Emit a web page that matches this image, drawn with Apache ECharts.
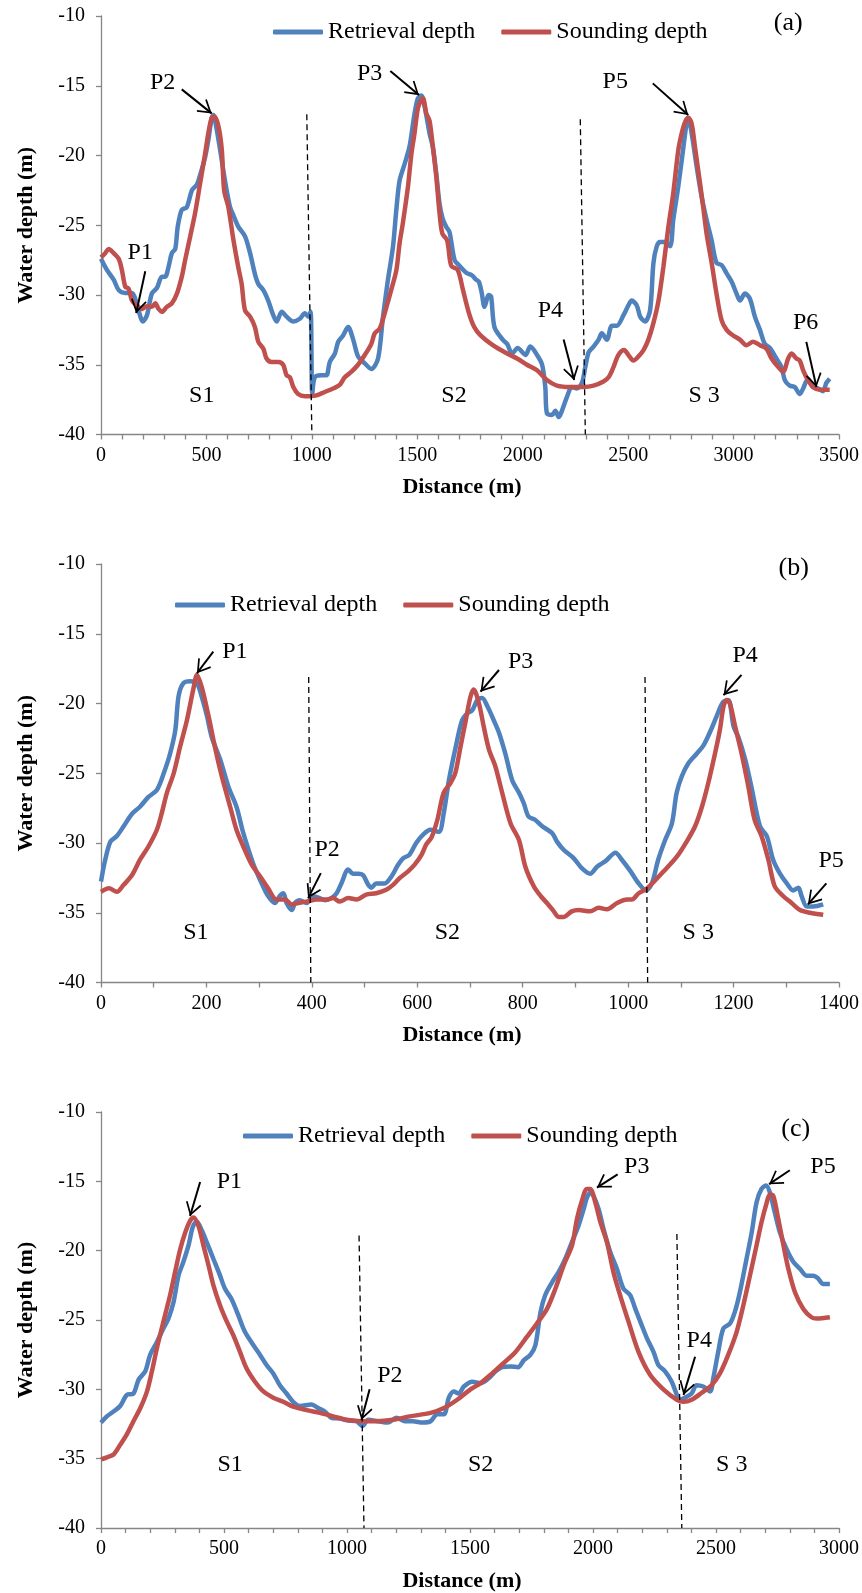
<!DOCTYPE html>
<html>
<head>
<meta charset="utf-8">
<script src="https://cdn.jsdelivr.net/npm/echarts@6/dist/echarts.min.js"></script>
<style>
html, body { margin: 0; padding: 0; background: #fff; }
#main { width: 862px; height: 1593px; }
</style>
</head>
<body>
<div id="main"></div>
<script>
var FONT = 'Liberation Serif';
var BLUE = '#4F81BD';
var RED = '#C0504D';

// ---- (a) profile: [distance m, depth m] ----
var retrievalA = [[0,-27.4],[28,-28.2],[60,-28.9],[84,-29.65],[115,-29.85],[147,-29.85],[162,-30.25],[178,-31.1],[199,-31.9],[218,-31.45],[241,-29.9],[265,-29.5],[289,-28.7],[304,-28.7],[320,-28.0],[336,-27.0],[352,-26.7],[364,-25.1],[383,-23.9],[407,-23.7],[431,-22.5],[454,-22.1],[470,-21.4],[494,-20.1],[509,-18.9],[525,-17.3],[533,-17.1],[546,-17.9],[565,-19.6],[588,-21.8],[612,-23.7],[628,-24.3],[651,-25.1],[683,-25.8],[707,-27.0],[730,-28.5],[746,-29.2],[770,-29.65],[793,-30.4],[817,-31.45],[833,-31.9],[857,-31.2],[880,-31.55],[912,-31.9],[943,-31.7],[967,-31.3],[983,-31.55],[994,-31.2],[1002,-37.1],[1014,-35.9],[1046,-35.75],[1069,-35.75],[1085,-34.8],[1109,-34.2],[1125,-33.35],[1148,-32.9],[1172,-32.3],[1196,-33.2],[1219,-34.4],[1251,-34.9],[1282,-35.3],[1314,-34.55],[1337,-31.6],[1360,-29.0],[1385,-26.5],[1400,-24.0],[1416,-21.8],[1440,-20.6],[1464,-19.3],[1487,-17.0],[1503,-15.9],[1519,-15.7],[1535,-16.5],[1558,-18.4],[1574,-19.4],[1590,-21.3],[1606,-23.5],[1620,-24.5],[1637,-25.1],[1653,-25.5],[1677,-27.5],[1700,-27.9],[1732,-28.4],[1760,-28.6],[1779,-28.9],[1792,-29.05],[1805,-29.8],[1819,-30.85],[1839,-30.0],[1850,-30.1],[1866,-32.3],[1905,-33.2],[1926,-33.5],[1950,-34.2],[1976,-33.8],[2013,-34.3],[2036,-33.7],[2068,-34.3],[2092,-35.0],[2107,-36.6],[2115,-38.5],[2139,-38.6],[2155,-38.3],[2171,-38.75],[2186,-38.3],[2210,-37.3],[2233,-36.6],[2257,-36.7],[2281,-36.3],[2297,-35.15],[2313,-34.1],[2336,-33.7],[2360,-33.2],[2375,-32.75],[2399,-33.2],[2423,-32.2],[2446,-32.2],[2478,-31.45],[2501,-30.75],[2517,-30.4],[2541,-30.75],[2557,-31.55],[2580,-31.9],[2604,-31.1],[2620,-27.7],[2636,-26.5],[2651,-26.2],[2675,-26.2],[2699,-26.5],[2714,-24.6],[2738,-22.2],[2762,-19.4],[2778,-17.6],[2785,-17.3],[2801,-18.4],[2825,-20.8],[2849,-23.0],[2872,-24.6],[2896,-26.1],[2919,-27.7],[2943,-27.85],[2967,-28.45],[2991,-29.05],[3014,-29.9],[3030,-30.4],[3054,-29.9],[3077,-30.25],[3101,-31.55],[3125,-32.5],[3148,-33.5],[3172,-33.8],[3203,-34.55],[3227,-35.15],[3243,-36.1],[3266,-36.5],[3290,-36.6],[3314,-37.1],[3330,-36.7],[3353,-36.0],[3377,-36.6],[3401,-36.7],[3424,-36.9],[3440,-36.3],[3456,-36.0]];
var soundingA = [[0,-27.3],[20,-27.0],[36,-26.7],[60,-27.0],[84,-27.4],[99,-28.2],[115,-29.4],[131,-29.55],[147,-30.4],[170,-30.75],[194,-31.0],[218,-30.8],[241,-30.85],[257,-30.6],[273,-31.0],[289,-31.2],[312,-30.85],[336,-30.6],[360,-29.9],[383,-28.7],[399,-27.5],[423,-25.8],[446,-24.15],[470,-22.0],[494,-19.85],[509,-18.4],[525,-17.3],[538,-17.2],[557,-17.9],[573,-19.6],[584,-22.5],[604,-23.7],[628,-26.05],[651,-28.0],[667,-29.2],[683,-31.1],[707,-31.55],[730,-32.3],[746,-33.35],[770,-33.85],[785,-34.55],[809,-34.8],[841,-34.8],[864,-35.0],[880,-35.75],[896,-35.9],[912,-36.6],[935,-37.1],[967,-37.25],[991,-37.25],[1022,-37.2],[1061,-36.95],[1101,-36.7],[1132,-36.45],[1156,-35.9],[1188,-35.5],[1219,-35.0],[1251,-34.3],[1282,-33.5],[1298,-32.75],[1322,-32.4],[1353,-30.9],[1377,-29.6],[1401,-28.2],[1416,-26.3],[1432,-24.8],[1456,-22.2],[1472,-19.9],[1487,-18.4],[1503,-16.6],[1519,-16.0],[1527,-15.9],[1543,-17.0],[1558,-17.5],[1574,-19.4],[1590,-21.5],[1606,-24.2],[1619,-25.6],[1642,-26.1],[1661,-27.9],[1692,-28.2],[1716,-29.6],[1745,-31.3],[1770,-32.3],[1800,-32.9],[1858,-33.6],[1926,-34.2],[1973,-34.55],[2020,-35.0],[2068,-35.4],[2115,-36.1],[2162,-36.5],[2225,-36.6],[2288,-36.6],[2336,-36.5],[2383,-36.2],[2407,-35.9],[2431,-35.15],[2454,-34.3],[2481,-33.95],[2501,-34.3],[2525,-34.7],[2549,-34.4],[2573,-33.95],[2596,-33.2],[2620,-32.0],[2644,-30.4],[2667,-28.0],[2691,-25.1],[2714,-22.7],[2738,-19.6],[2754,-18.4],[2770,-17.6],[2785,-17.3],[2801,-17.7],[2817,-19.4],[2841,-22.0],[2856,-23.7],[2872,-25.6],[2896,-27.7],[2919,-29.9],[2943,-31.8],[2967,-32.5],[2998,-32.9],[3030,-33.2],[3061,-33.6],[3093,-33.35],[3125,-33.6],[3156,-33.85],[3180,-34.55],[3211,-35.15],[3235,-35.5],[3259,-34.55],[3275,-34.2],[3298,-34.55],[3314,-34.7],[3330,-35.4],[3353,-36.1],[3377,-36.6],[3409,-36.8],[3456,-36.8]];

// ---- (b) profile ----
var retrievalB = [[0,-32.76],[8,-31.2],[18,-29.9],[30,-29.5],[43,-28.8],[59,-27.9],[74,-27.4],[90,-26.7],[106,-26.2],[119,-25.0],[131,-23.6],[141,-21.9],[147,-19.5],[156,-18.55],[169,-18.4],[182,-18.55],[191,-19.5],[201,-20.9],[210,-22.4],[226,-24.0],[242,-26.0],[257,-27.4],[270,-29.3],[283,-30.85],[292,-31.8],[305,-32.9],[317,-33.8],[330,-34.3],[339,-33.8],[346,-33.6],[352,-34.3],[362,-34.8],[368,-34.3],[377,-34.1],[390,-34.3],[402,-33.8],[415,-33.95],[425,-34.1],[437,-33.95],[447,-33.6],[456,-32.9],[469,-31.9],[478,-32.2],[488,-32.2],[497,-32.3],[507,-33.0],[513,-33.2],[522,-32.9],[538,-32.9],[551,-32.4],[563,-31.6],[573,-31.1],[585,-30.85],[598,-30.0],[611,-29.4],[625,-29.05],[641,-29.2],[650,-27.9],[660,-25.5],[673,-23.1],[685,-21.2],[695,-20.7],[704,-20.5],[714,-19.75],[723,-19.6],[733,-20.2],[745,-21.2],[755,-22.1],[767,-23.6],[780,-25.5],[793,-26.4],[802,-27.15],[811,-28.1],[824,-28.35],[837,-28.8],[856,-29.3],[865,-29.9],[878,-30.5],[897,-31.1],[912,-31.8],[928,-32.2],[941,-31.7],[957,-31.3],[976,-30.7],[988,-31.2],[1004,-32.0],[1020,-32.9],[1034,-33.4],[1045,-32.9],[1057,-31.2],[1070,-29.8],[1083,-28.6],[1092,-26.4],[1102,-25.2],[1114,-24.3],[1130,-23.6],[1143,-23.0],[1157,-21.9],[1168,-20.9],[1180,-19.9],[1190,-19.75],[1200,-21.65],[1209,-22.4],[1222,-24.0],[1234,-26.0],[1250,-28.8],[1263,-29.5],[1275,-31.2],[1288,-32.2],[1301,-32.9],[1313,-33.4],[1323,-33.2],[1329,-33.8],[1339,-34.55],[1351,-34.55],[1370,-34.4]];
var soundingB = [[0,-33.5],[15,-33.25],[30,-33.5],[43,-33.0],[59,-32.3],[74,-31.2],[90,-30.25],[106,-29.05],[115,-27.9],[125,-26.4],[138,-25.0],[150,-23.1],[163,-21.2],[175,-19.0],[182,-17.95],[191,-18.8],[204,-20.9],[216,-23.1],[229,-25.2],[245,-27.4],[257,-29.05],[270,-30.25],[286,-31.55],[302,-32.4],[317,-33.25],[333,-34.05],[349,-34.05],[362,-34.4],[374,-34.3],[390,-34.2],[409,-34.05],[428,-34.05],[440,-33.95],[453,-34.2],[469,-33.95],[485,-34.05],[503,-33.7],[522,-33.6],[541,-33.35],[554,-33.0],[567,-32.5],[582,-32.05],[595,-31.55],[608,-30.85],[617,-30.1],[627,-29.6],[638,-28.35],[650,-26.4],[663,-25.7],[672,-25.0],[682,-23.1],[692,-21.2],[701,-19.5],[707,-19.0],[717,-20.0],[726,-21.65],[736,-23.3],[748,-24.5],[761,-26.4],[777,-28.6],[793,-29.8],[805,-31.7],[821,-33.1],[834,-33.8],[846,-34.3],[859,-34.9],[868,-35.3],[878,-35.3],[893,-34.9],[906,-34.8],[928,-34.9],[944,-34.65],[960,-34.75],[979,-34.3],[998,-34.05],[1007,-34.05],[1020,-33.6],[1034,-33.3],[1048,-32.8],[1067,-32.05],[1092,-31.0],[1111,-29.9],[1127,-28.8],[1140,-27.4],[1152,-25.7],[1165,-23.55],[1174,-21.9],[1181,-20.2],[1187,-19.75],[1193,-20.0],[1203,-21.65],[1215,-23.55],[1228,-25.95],[1240,-28.35],[1253,-29.5],[1266,-31.2],[1278,-33.1],[1294,-33.8],[1310,-34.3],[1326,-34.8],[1345,-35.0],[1370,-35.15]];

// ---- (c) profile ----
var retrievalC = [[0,-32.4],[24,-31.95],[51,-31.6],[78,-31.2],[105,-30.4],[132,-30.3],[153,-29.3],[180,-28.7],[200,-27.5],[227,-26.6],[254,-25.6],[274,-24.9],[295,-23.7],[315,-21.8],[335,-20.8],[356,-19.6],[373,-18.3],[389,-17.9],[410,-18.55],[430,-19.4],[457,-20.6],[484,-21.8],[504,-22.75],[531,-23.5],[558,-24.65],[585,-25.85],[619,-26.8],[646,-27.5],[673,-28.25],[700,-28.85],[727,-29.7],[754,-30.3],[781,-30.9],[808,-31.2],[856,-31.1],[883,-31.35],[910,-31.6],[937,-32.05],[971,-32.1],[1005,-32.25],[1038,-32.3],[1063,-32.65],[1086,-32.2],[1126,-32.3],[1167,-32.4],[1201,-32.05],[1234,-32.3],[1268,-32.3],[1309,-32.4],[1340,-32.3],[1367,-31.8],[1394,-31.8],[1414,-30.6],[1434,-30.15],[1454,-30.3],[1475,-29.8],[1509,-29.45],[1543,-29.55],[1576,-29.2],[1604,-28.7],[1631,-28.4],[1665,-28.35],[1695,-28.4],[1719,-27.9],[1746,-27.5],[1766,-26.8],[1787,-24.4],[1806,-23.2],[1833,-22.3],[1860,-21.55],[1887,-20.6],[1914,-19.4],[1941,-18.2],[1962,-17.0],[1975,-16.2],[1989,-15.8],[2002,-16.05],[2023,-17.0],[2043,-18.45],[2070,-20.1],[2097,-21.3],[2124,-22.75],[2151,-23.2],[2172,-24.2],[2192,-25.1],[2219,-26.3],[2246,-27.3],[2266,-28.25],[2293,-28.7],[2320,-29.45],[2341,-30.4],[2354,-30.75],[2374,-30.6],[2401,-30.3],[2421,-29.7],[2448,-29.8],[2476,-30.15],[2489,-29.2],[2509,-27.3],[2530,-25.6],[2557,-25.25],[2577,-24.4],[2597,-23.0],[2624,-20.6],[2645,-18.7],[2665,-16.5],[2685,-15.55],[2703,-15.3],[2719,-15.8],[2739,-17.25],[2760,-18.7],[2787,-19.9],[2814,-20.8],[2841,-21.3],[2868,-21.8],[2895,-21.8],[2915,-22.0],[2936,-22.4],[2963,-22.4]];
var soundingC = [[0,-35.05],[24,-34.9],[51,-34.7],[78,-34.0],[105,-33.25],[132,-32.3],[160,-31.35],[187,-30.15],[207,-28.7],[227,-27.05],[254,-25.1],[281,-23.2],[301,-21.55],[322,-19.9],[342,-18.7],[362,-17.85],[376,-17.6],[396,-18.2],[416,-19.6],[437,-21.05],[457,-22.5],[484,-23.95],[511,-25.1],[538,-26.1],[565,-27.3],[592,-28.5],[626,-29.45],[660,-30.15],[700,-30.6],[741,-30.9],[781,-31.25],[836,-31.5],[890,-31.7],[944,-31.95],[998,-32.2],[1059,-32.3],[1120,-32.3],[1187,-32.2],[1255,-31.95],[1340,-31.7],[1394,-31.35],[1448,-30.75],[1502,-30.0],[1543,-29.55],[1590,-28.85],[1637,-28.1],[1685,-27.3],[1732,-26.2],[1772,-25.25],[1813,-24.2],[1847,-22.75],[1881,-21.05],[1915,-19.6],[1935,-17.7],[1955,-16.4],[1975,-15.55],[1989,-15.55],[2009,-16.5],[2030,-17.95],[2057,-19.4],[2083,-21.55],[2110,-23.2],[2144,-25.1],[2185,-27.3],[2232,-28.95],[2286,-30.0],[2341,-30.75],[2368,-30.9],[2401,-30.75],[2442,-30.25],[2482,-29.7],[2516,-28.85],[2550,-27.5],[2584,-25.85],[2611,-23.95],[2638,-21.8],[2665,-19.6],[2685,-17.95],[2706,-16.55],[2719,-15.95],[2733,-16.05],[2753,-17.7],[2774,-19.6],[2794,-21.3],[2821,-23.0],[2855,-24.2],[2888,-24.8],[2909,-24.9],[2963,-24.8]];

// annotations: arrows [from, to], labels, section boundaries
var arrowsA = [[[210,-28.3],[167,-31.3]],[[383,-15.26],[525,-16.98]],[[1372,-13.94],[1508,-15.67]],[[2194,-33.19],[2244,-36.1]],[[2617,-14.83],[2785,-17.1]],[[3345,-33.36],[3393,-36.6]]];
var labelsA = [['P1',186,-27.0],['P2',292,-14.8],['P3',1274,-14.16],['P4',2131,-31.1],['P5',2439,-14.7],['P6',3342,-32.0],['S1',478,-37.2],['S2',1674,-37.2],['S 3',2860,-37.2]];
var dashA = [[[976,-17.05],[1000,-40]],[[2273,-17.4],[2297,-40]]];

var arrowsB = [[[213,-16.28],[182,-17.83]],[[417,-32.16],[393,-33.95]],[[755,-17.6],[720,-19.15]],[[1215,-17.95],[1181,-19.4]],[[1376,-32.9],[1341,-34.4]]];
var labelsB = [['P1',254,-16.3],['P2',429,-30.5],['P3',796,-17.0],['P4',1222,-16.6],['P5',1385,-31.3],['S1',180,-36.4],['S2',657,-36.4],['S 3',1133,-36.4]];
var dashB = [[[394,-18.1],[398,-40]],[[1032,-18.1],[1037,-40]]];

var arrowsC = [[[403,-15.05],[362,-17.5]],[[1092,-30.0],[1059,-32.2]],[[2100,-14.5],[2016,-15.45]],[[2415,-27.65],[2368,-30.4]],[[2800,-14.2],[2716,-15.2]]];
var labelsC = [['P1',522,-15.05],['P2',1174,-29.0],['P3',2178,-13.95],['P4',2432,-26.5],['P5',2935,-13.95],['S1',525,-35.46],['S2',1543,-35.46],['S 3',2564,-35.46]];
var dashC = [[[1049,-18.9],[1069,-40]],[[2341,-18.8],[2361,-40]]];

var panelTags = [['(a)',3259,-10.52],['(b)',1314,-10.31],['(c)',2824,-11.27]];

var chartDom = document.getElementById('main');
var myChart = echarts.init(chartDom);

// open chevron arrow head, tip at the symbol centre
var ARROW = 'path://M10,0 L20,16 L18.2,17.2 L10,4 L1.8,17.2 L0,16 Z M9.9,-17 L10.1,-17 L10,-16.9 Z';

var panels = [
    { ret: retrievalA, snd: soundingA, arrows: arrowsA, labels: labelsA, dash: dashA, max: 3500, interval: 500, minor: 5, top: 16, legendLeft: 273, legendTop: 20 },
    { ret: retrievalB, snd: soundingB, arrows: arrowsB, labels: labelsB, dash: dashB, max: 1400, interval: 200, minor: 2, top: 564, legendLeft: 175, legendTop: 593 },
    { ret: retrievalC, snd: soundingC, arrows: arrowsC, labels: labelsC, dash: dashC, max: 3000, interval: 500, minor: 5, top: 1112, legendLeft: 243, legendTop: 1124 }
];

var axisColor = '#868686';
var grids = [], xAxes = [], yAxes = [], legends = [], series = [];

panels.forEach(function (p, i) {
    grids.push({ left: 101, right: 22, top: p.top, height: 418.5 });
    xAxes.push({
        type: 'value', gridIndex: i, min: 0, max: p.max, interval: p.interval,
        axisLine: { lineStyle: { color: axisColor, width: 1.3 } },
        axisTick: { show: true, length: 5, lineStyle: { color: axisColor, width: 1.3 } },
        minorTick: { show: true, splitNumber: p.minor, length: 5, lineStyle: { color: axisColor, width: 1.3 } },
        splitLine: { show: false },
        axisLabel: { color: '#000', fontSize: 20, fontFamily: FONT, margin: 11, formatter: function (v) { return String(v); } },
        name: 'Distance (m)', nameLocation: 'middle', nameGap: 42,
        nameTextStyle: { color: '#000', fontSize: 22, fontWeight: 'bold', fontFamily: FONT, padding: [0, 16, 0, 0] }
    });
    yAxes.push({
        type: 'value', gridIndex: i, min: -40, max: -10, interval: 5,
        axisLine: { show: true, lineStyle: { color: axisColor, width: 1.3 } },
        axisTick: { show: true, length: 5, lineStyle: { color: axisColor, width: 1.3 } },
        splitLine: { show: false },
        axisLabel: { color: '#000', fontSize: 20, fontFamily: FONT, margin: 16, formatter: function (v) { return String(v); } },
        name: 'Water depth (m)', nameLocation: 'middle', nameGap: 64, nameRotate: 90,
        nameTextStyle: { color: '#000', fontSize: 22, fontWeight: 'bold', fontFamily: FONT }
    });
    legends.push({
        data: ['Retrieval depth', 'Sounding depth'],
        left: p.legendLeft, top: p.legendTop, padding: 0,
        icon: 'roundRect', itemWidth: 50, itemHeight: 5, itemGap: 26,
        selectedMode: false,
        textStyle: { color: '#000', fontSize: 24, fontFamily: FONT }
    });

    series.push({
        name: 'Retrieval depth', type: 'line', xAxisIndex: i, yAxisIndex: i,
        data: p.ret, showSymbol: false, smooth: 0.3,
        lineStyle: { color: BLUE, width: 4.5 }, itemStyle: { color: BLUE },
        markLine: {
            silent: true, symbol: ['none', 'none'], label: { show: false },
            lineStyle: { color: '#000', width: 1.3, type: [6, 4] },
            data: p.dash.map(function (d) { return [{ coord: d[0] }, { coord: d[1] }]; })
        }
    });

    var marks = p.labels.map(function (l) { return { name: l[0], coord: [l[1], l[2]] }; });
    var tag = panelTags[i];
    marks.push({ name: tag[0], coord: [tag[1], tag[2]], label: { fontSize: 26 } });

    series.push({
        name: 'Sounding depth', type: 'line', xAxisIndex: i, yAxisIndex: i,
        data: p.snd, showSymbol: false, smooth: 0.3,
        lineStyle: { color: RED, width: 4.5 }, itemStyle: { color: RED },
        markLine: {
            silent: true, symbol: ['none', ARROW], symbolSize: [16, 27.2], label: { show: false },
            lineStyle: { color: '#000', width: 2, type: 'solid' },
            data: p.arrows.map(function (a) { return [{ coord: a[0] }, { coord: a[1] }]; })
        },
        markPoint: {
            silent: true, symbol: 'rect', symbolSize: 1,
            itemStyle: { color: 'rgba(0,0,0,0)' },
            label: { show: true, position: 'inside', formatter: '{b}', color: '#000', fontSize: 24, fontFamily: FONT },
            data: marks
        }
    });
});

var option = {
    backgroundColor: '#fff',
    animation: false,
    grid: grids,
    xAxis: xAxes,
    yAxis: yAxes,
    legend: legends,
    series: series
};

option && myChart.setOption(option);
</script>
</body>
</html>
